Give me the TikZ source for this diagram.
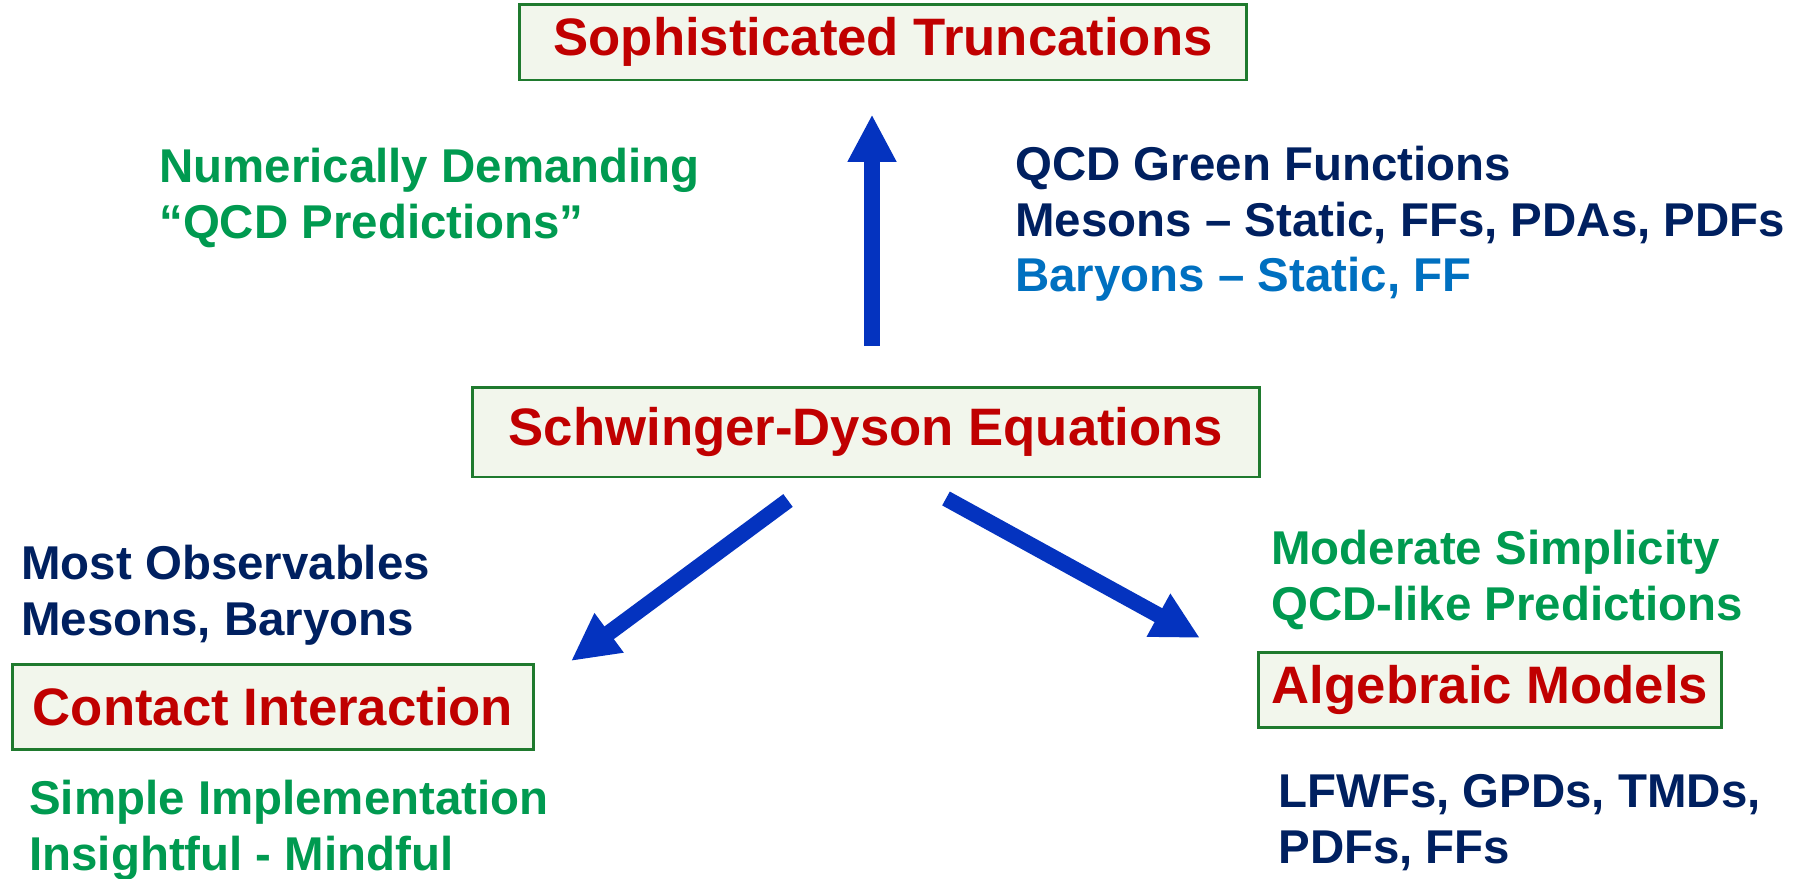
\documentclass[tikz,border=0pt]{standalone}
\usepackage{fontspec}
\setmainfont{Liberation Sans}
\usetikzlibrary{arrows.meta}

\definecolor{titlered}{HTML}{C00000}
\definecolor{navy}{HTML}{002060}
\definecolor{leafgreen}{HTML}{009A50}
\definecolor{skyblue}{HTML}{0070C0}
\definecolor{boxgreen}{HTML}{1F7A2E}
\definecolor{boxfill}{HTML}{F2F6EC}
\definecolor{flowblue}{HTML}{0433BF}

\newcommand{\titlefont}{\fontsize{30}{36}\selectfont\bfseries}
\newcommand{\notefont}{\fontsize{27}{31.6}\selectfont\bfseries}

\tikzset{
	model/.style={draw=boxgreen,fill=boxfill,line width=1.7pt,text=titlered,
		font=\titlefont,inner sep=0pt},
	note/.style={anchor=north west,align=left,inner sep=0pt,font=\notefont},
	flow/.style={draw=flowblue,line width=9pt,-{Triangle[width=26pt,length=27pt]}}
}

\begin{document}
\begin{tikzpicture}[x=0.02cm,y=-0.02cm]
	\useasboundingbox (0,0) rectangle (1809,879);

	% the four approaches
	\node[model,minimum width=14.54cm,minimum height=1.52cm] (trunc) at (883,42) {Sophisticated Truncations};
	\node[model,minimum width=15.74cm,minimum height=1.8cm] (sde) at (866,432) {Schwinger-Dyson Equations};
	\node[model,minimum width=10.44cm,minimum height=1.7cm] (contact) at (273,707) {Contact Interaction};
	\node[model,minimum width=9.28cm,minimum height=1.5cm] (algebraic) at (1490,690) {Algebraic Models};

	% remarks beside each box
	\node[note,text=leafgreen] (demanding) at (159,148) {Numerically Demanding\\``QCD Predictions''};
	\node[note,text=navy] (green) at (1015,146) {QCD Green Functions\\Mesons -- Static, FFs, PDAs, PDFs\\\textcolor{skyblue}{Baryons -- Static, FF}};
	\node[note,text=navy] (observables) at (21,545) {Most Observables\\Mesons, Baryons};
	\node[note,text=leafgreen] (simple) at (29,780) {Simple Implementation\\Insightful - Mindful};
	\node[note,text=leafgreen] (moderate) at (1271,530) {Moderate Simplicity\\QCD-like Predictions};
	\node[note,text=navy] (lfwf) at (1278,774) {LFWFs, GPDs, TMDs,\\PDFs, FFs};

	% arrows out of the SDE box
	\coordinate (ci-in) at (571,661);
	\coordinate (am-in) at (1200,638);
	\draw[flow] ([shift={(6,-40)}]sde.north) -- ([shift={(-11,33)}]trunc.south);
	\draw[flow] ([shift={(-78,22)}]sde.south) -- (ci-in);
	\draw[flow] ([shift={(80,20)}]sde.south) -- (am-in);
\end{tikzpicture}
\end{document}
